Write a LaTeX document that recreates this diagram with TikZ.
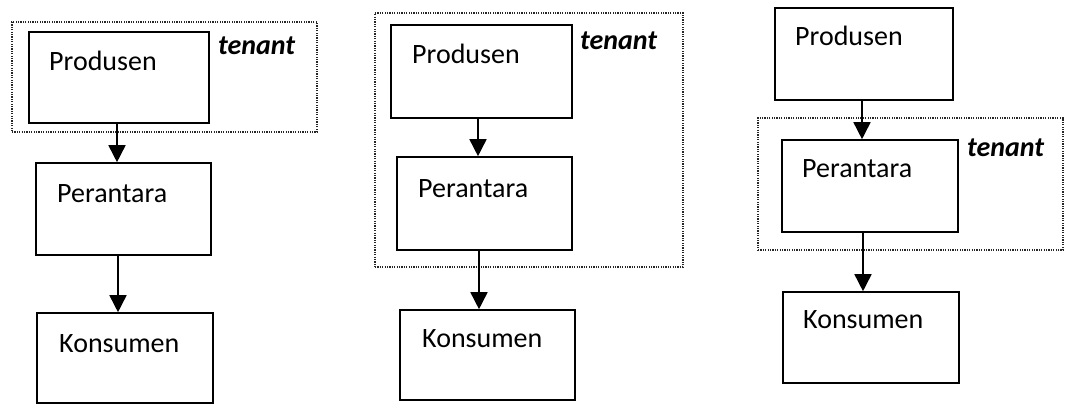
\documentclass[tikz,border=0pt]{standalone}
\usepackage{fontspec}
\setmainfont{Carlito}
\usetikzlibrary{arrows.meta}
\begin{document}
\begin{tikzpicture}[x=1pt,y=-1pt,
  box/.style={draw=black,line width=1.6pt,rectangle,inner sep=0pt},
  lbl/.style={anchor=base west,inner sep=0pt,font=\fontsize{28}{31}\selectfont},
  ten/.style={anchor=base west,inner sep=0pt,font=\fontsize{28}{31}\selectfont\bfseries\itshape},
  frame/.style={draw=black!85,line width=1.2pt,dash pattern=on 1.2pt off 1.2pt,rectangle,inner sep=0pt},
  arr/.style={draw=black,line width=1.6pt,-{Triangle[length=17pt,width=17pt]}}]
\useasboundingbox[fill=white] (0,0) rectangle (1065,405);
% column 1
\node[frame,minimum width=305pt,minimum height=110pt] (f1) at (164.5,77) {};
\node[box,minimum width=180pt,minimum height=91pt] (p1) at (119,77.5) {};
\node[box,minimum width=175pt,minimum height=92pt] (r1) at (123.5,209) {};
\node[box,minimum width=176pt,minimum height=90pt] (k1) at (125,358) {};
\node[lbl] (tp1) at (49,70) {Produsen};
\node[lbl] (tr1) at (57,202) {Perantara};
\node[lbl] (tk1) at (59,352) {Konsumen};
\node[ten] (tt1) at (218,54) {tenant};
\coordinate (a1) at (117,0);
\draw[arr] (p1.south -| a1) -- (r1.north -| a1);
\coordinate (b1) at (118,0);
\draw[arr] (r1.south -| b1) -- (k1.north -| b1);
% column 2
\node[frame,minimum width=308pt,minimum height=254pt] (f2) at (529,140) {};
\node[box,minimum width=181pt,minimum height=93pt] (p2) at (481.5,71.5) {};
\node[box,minimum width=175pt,minimum height=93pt] (r2) at (484.5,203.5) {};
\node[box,minimum width=175pt,minimum height=90pt] (k2) at (487.5,355) {};
\node[lbl] (tp2) at (412,63) {Produsen};
\node[lbl] (tr2) at (418,197) {Perantara};
\node[lbl] (tk2) at (422,347) {Konsumen};
\node[ten] (tt2) at (580,49) {tenant};
\coordinate (a2) at (478,0);
\draw[arr] (p2.south -| a2) -- (r2.north -| a2);
\coordinate (b2) at (479,0);
\draw[arr] (r2.south -| b2) -- (k2.north -| b2);
% column 3
\node[frame,minimum width=305pt,minimum height=132pt] (f3) at (910.5,184) {};
\node[box,minimum width=178pt,minimum height=92pt] (p3) at (864,54) {};
\node[box,minimum width=176pt,minimum height=92pt] (r3) at (870,186) {};
\node[box,minimum width=176pt,minimum height=91pt] (k3) at (871,337.5) {};
\node[lbl] (tp3) at (795,45) {Produsen};
\node[lbl] (tr3) at (802,177) {Perantara};
\node[lbl] (tk3) at (803,328) {Konsumen};
\node[ten] (tt3) at (967,156) {tenant};
\coordinate (a3) at (862,0);
\draw[arr] (p3.south -| a3) -- (r3.north -| a3);
\coordinate (b3) at (863,0);
\draw[arr] (r3.south -| b3) -- (k3.north -| b3);
\end{tikzpicture}
\end{document}
